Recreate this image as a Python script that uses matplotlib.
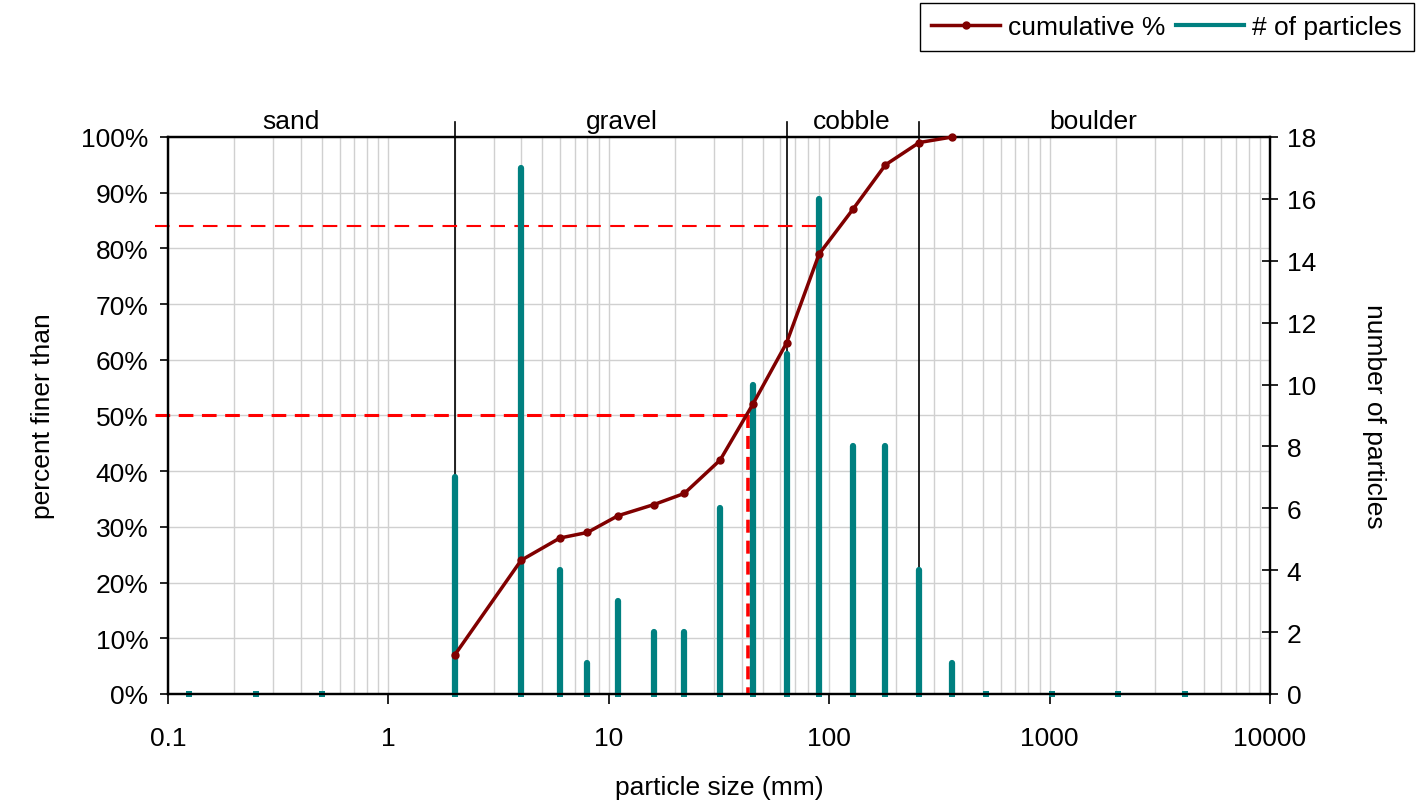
import numpy as np
import matplotlib
matplotlib.use('Agg')
import matplotlib.pyplot as plt
from matplotlib.lines import Line2D
from matplotlib.ticker import NullFormatter, LogLocator

plt.rcParams['font.family'] = ['Liberation Sans', 'DejaVu Sans']

# particle size classes (mm) and counts
sizes = [0.125, 0.25, 0.5, 2, 4, 6, 8, 11, 16, 22, 32, 45, 64, 90, 128, 180, 256, 362,
         512, 1024, 2048, 4096]
counts = [0, 0, 0, 7, 17, 4, 1, 3, 2, 2, 6, 10, 11, 16, 8, 8, 4, 1, 0, 0, 0, 0]

# cumulative percent finer
cum_sizes = [2, 4, 6, 8, 11, 16, 22, 32, 45, 64, 90, 128, 180, 256, 362]
cum_pct = [7, 24, 28, 29, 32, 34, 36, 42, 52, 63, 79, 87, 95, 99, 100]

# size class boundaries and labels
bounds = [2, 64, 256]
class_names = ['sand', 'gravel', 'cobble', 'boulder']
class_pos = [0.36, 11.5, 127, 1570]

d50, d84 = 43, 94

TEAL = '#008080'
DRED = '#800000'
FS = 19

fig = plt.figure(figsize=(14.2, 8.04), dpi=100)
ax1 = fig.add_axes([0.1183, 0.1356, 0.7761, 0.6928])
ax2 = ax1.twinx()

ax1.set_xscale('log')
ax1.set_xlim(0.1, 10000)
ax1.set_ylim(0, 100)
ax2.set_ylim(0, 18)

# grid
ax1.xaxis.set_minor_locator(LogLocator(base=10, subs=np.arange(2, 10)))
ax1.xaxis.set_minor_formatter(NullFormatter())
ax1.grid(True, which='both', axis='x', color='#d0d0d0', lw=1.0)
ax1.grid(True, which='major', axis='y', color='#d0d0d0', lw=1.0)
ax1.set_axisbelow(True)

# class boundaries
for b in bounds:
    ax1.plot([b, b], [0, 102.6], color='black', lw=1.2, clip_on=False, zorder=1.5)
for name, xp in zip(class_names, class_pos):
    ax1.text(xp, 100.7, name, ha='center', va='bottom', fontsize=FS)

# reference lines (D84, D50)
ax1.plot([0.087, d84], [84, 84], color='red', lw=1.5, ls=(0, (7, 4.5)), clip_on=False, zorder=3)
ax1.plot([0.087, d50], [50, 50], color='red', lw=2.2, ls=(0, (4.8, 2.8)), clip_on=False, zorder=3)
ax1.plot([d50, d50], [50, 0], color='red', lw=2.6, ls=(0, (3.6, 2.2)), zorder=3)

# particle counts as thick sticks
vl = ax2.vlines(sizes, 0, counts, colors=TEAL, lw=4.5, zorder=2)
vl.set_capstyle('round')
ax2.scatter(sizes, np.zeros(len(sizes)), marker='s', s=14, color=TEAL, zorder=2,
            clip_on=False, linewidths=0)

# cumulative curve (drawn on top, in percent coords)
ax2.plot(cum_sizes, cum_pct, color=DRED, lw=2.5, marker='o', ms=5,
         transform=ax1.transData, zorder=4, clip_on=False)

# ticks
ax1.set_yticks(np.arange(0, 101, 10))
ax1.set_yticklabels([f'{v}%' for v in range(0, 101, 10)])
ax2.set_yticks(np.arange(0, 19, 2))
ax1.set_xticks([0.1, 1, 10, 100, 1000, 10000])
ax1.set_xticklabels(['0.1', '1', '10', '100', '1000', '10000'])
ax1.tick_params(axis='y', which='major', labelsize=FS, length=6, width=1.2,
                direction='out', pad=8)
ax1.tick_params(axis='x', which='major', labelsize=FS, length=7, width=1.2,
                direction='out', pad=16)
ax1.tick_params(axis='x', which='minor', length=0)
ax2.tick_params(axis='y', labelsize=FS, length=12, width=1.2, direction='inout', pad=6)
for ax in (ax1, ax2):
    for s in ax.spines.values():
        s.set_linewidth(1.6)

ax1.set_xlabel('particle size (mm)', fontsize=FS, labelpad=18)
ax1.set_ylabel('percent finer than', fontsize=FS, labelpad=19)
ax2.set_ylabel('number of particles', fontsize=FS, rotation=270, labelpad=50)

handles = [Line2D([], [], color=DRED, lw=2.5, marker='o', ms=5),
           Line2D([], [], color=TEAL, lw=3)]
fig.legend(handles, ['cumulative %', '# of particles'], loc='upper right',
           bbox_to_anchor=(0.9958, 0.995), borderaxespad=0, fontsize=FS,
           fancybox=False, edgecolor='black', framealpha=1, ncol=2,
           handlelength=2.6, columnspacing=0.4, handletextpad=0.3,
           borderpad=0.45, numpoints=1)

fig.savefig('out.png', dpi=100)
